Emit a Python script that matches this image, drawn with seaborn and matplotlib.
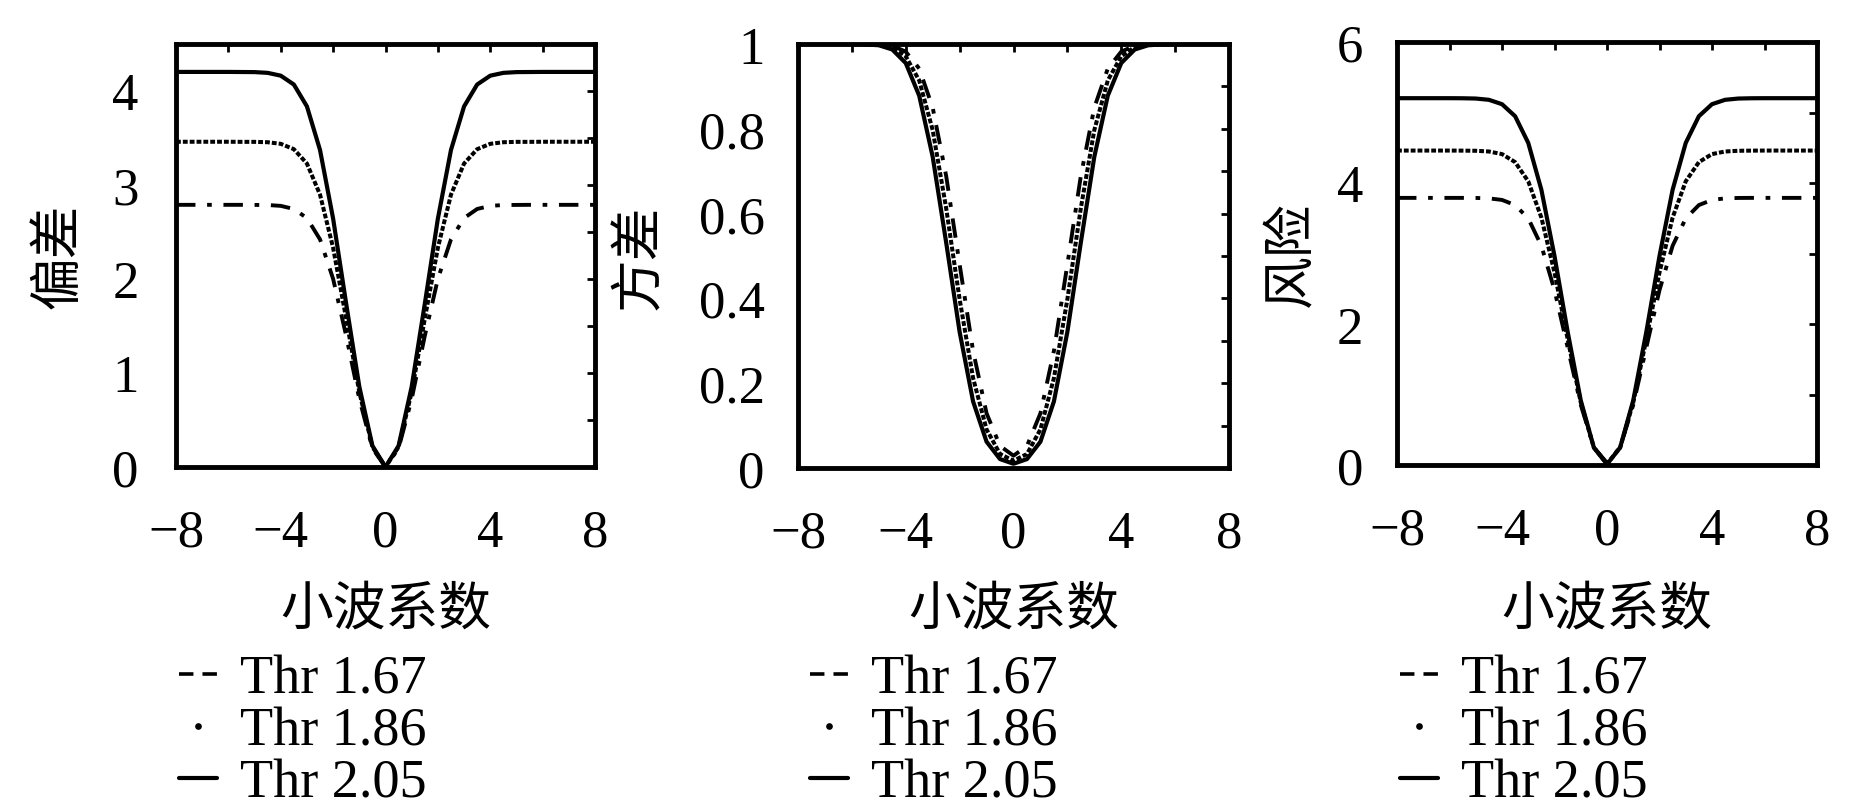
import matplotlib
matplotlib.use("Agg")
import matplotlib.pyplot as plt
from matplotlib.lines import Line2D
import numpy as np
import seaborn as sns

# wavelet coefficient positions
coef = [-8, -7, -6, -5.5, -5, -4.5, -4, -3.5, -3, -2.5, -2, -1.5, -1, -0.5, 0,
        0.5, 1, 1.5, 2, 2.5, 3, 3.5, 4, 4.5, 5, 5.5, 6, 7, 8]

# bias (偏差)
bias_167 = [2.789, 2.789, 2.789, 2.789, 2.788, 2.787, 2.778, 2.745, 2.648, 2.421, 2.001, 1.394, 0.724, 0.199, 0,
            0.199, 0.724, 1.394, 2.001, 2.421, 2.648, 2.745, 2.778, 2.787, 2.788, 2.789, 2.789, 2.789, 2.789]
bias_186 = [3.460, 3.460, 3.460, 3.459, 3.459, 3.455, 3.438, 3.381, 3.228, 2.897, 2.332, 1.576, 0.797, 0.214, 0,
            0.214, 0.797, 1.576, 2.332, 2.897, 3.228, 3.381, 3.438, 3.455, 3.459, 3.459, 3.460, 3.460, 3.460]
bias_205 = [4.203, 4.203, 4.203, 4.202, 4.201, 4.193, 4.163, 4.069, 3.836, 3.372, 2.642, 1.735, 0.855, 0.226, 0,
            0.226, 0.855, 1.735, 2.642, 3.372, 3.836, 4.069, 4.163, 4.193, 4.201, 4.202, 4.203, 4.203, 4.203]

# variance (方差)
var_167 = [1.000, 1.000, 1.000, 1.000, 0.999, 0.996, 0.982, 0.942, 0.850, 0.689, 0.480, 0.276, 0.129, 0.052, 0.029,
           0.052, 0.129, 0.276, 0.480, 0.689, 0.850, 0.942, 0.982, 0.996, 0.999, 1.000, 1.000, 1.000, 1.000]
var_186 = [1.000, 1.000, 1.000, 1.000, 0.998, 0.993, 0.971, 0.914, 0.797, 0.613, 0.398, 0.212, 0.091, 0.033, 0.017,
           0.033, 0.091, 0.212, 0.398, 0.613, 0.797, 0.914, 0.971, 0.993, 0.998, 1.000, 1.000, 1.000, 1.000]
var_205 = [1.000, 1.000, 1.000, 0.999, 0.997, 0.987, 0.955, 0.878, 0.734, 0.532, 0.321, 0.157, 0.062, 0.021, 0.010,
           0.021, 0.062, 0.157, 0.321, 0.532, 0.734, 0.878, 0.955, 0.987, 0.997, 0.999, 1.000, 1.000, 1.000]

# risk (风险)
risk_167 = [3.789, 3.789, 3.789, 3.789, 3.788, 3.782, 3.760, 3.687, 3.498, 3.110, 2.481, 1.670, 0.853, 0.250, 0.029,
            0.250, 0.853, 1.670, 2.481, 3.110, 3.498, 3.687, 3.760, 3.782, 3.788, 3.789, 3.789, 3.789, 3.789]
risk_186 = [4.460, 4.460, 4.460, 4.459, 4.457, 4.447, 4.410, 4.296, 4.024, 3.510, 2.731, 1.788, 0.888, 0.247, 0.017,
            0.247, 0.888, 1.788, 2.731, 3.510, 4.024, 4.296, 4.410, 4.447, 4.457, 4.459, 4.460, 4.460, 4.460]
risk_205 = [5.203, 5.203, 5.203, 5.202, 5.198, 5.180, 5.118, 4.947, 4.569, 3.904, 2.964, 1.892, 0.917, 0.247, 0.010,
            0.247, 0.917, 1.892, 2.964, 3.904, 4.569, 4.947, 5.118, 5.180, 5.198, 5.202, 5.203, 5.203, 5.203]

labels = ["Thr 1.67", "Thr 1.86", "Thr 2.05"]
xlabel = "小波系数"
ylabels = ["偏差", "方差", "风险"]

xticks = [-8, -6, -4, -2, 0, 2, 4, 6, 8]
xticklabels = ["\u22128", "", "\u22124", "", "0", "", "4", "", "8"]
yticks_bias = [0, 0.5, 1, 1.5, 2, 2.5, 3, 3.5, 4, 4.5]
yticklabels_bias = ["0", "", "1", "", "2", "", "3", "", "4", ""]
yticks_var = [0, 0.1, 0.2, 0.3, 0.4, 0.5, 0.6, 0.7, 0.8, 0.9, 1.0]
yticklabels_var = ["0", "", "0.2", "", "0.4", "", "0.6", "", "0.8", "", "1"]
yticks_risk = [0, 1, 2, 3, 4, 5, 6]
yticklabels_risk = ["0", "", "2", "", "4", "", "6"]

sns.set_style("white")
plt.rcParams['font.family'] = ['Liberation Serif', 'Noto Sans CJK SC']
plt.rcParams['axes.unicode_minus'] = True
plt.rcParams['text.color'] = 'black'
plt.rcParams['axes.labelcolor'] = 'black'
plt.rcParams['xtick.color'] = 'black'
plt.rcParams['ytick.color'] = 'black'

W, H = 1869, 812
fig = plt.figure(figsize=(W / 100, H / 100), dpi=100)

panels = [
    dict(box=(176, 45, 595, 468), data=[bias_167, bias_186, bias_205], ylabel=ylabels[0],
         yticks=yticks_bias, yticklabels=yticklabels_bias, ylim=4.5, ypad=27, ylab_x=-0.215, leg_x=179),
    dict(box=(798, 45, 1229, 469), data=[var_167, var_186, var_205], ylabel=ylabels[1],
         yticks=yticks_var, yticklabels=yticklabels_var, ylim=1.0, ypad=24, ylab_x=-0.305, leg_x=810),
    dict(box=(1397, 43, 1817, 466), data=[risk_167, risk_186, risk_205], ylabel=ylabels[2],
         yticks=yticks_risk, yticklabels=yticklabels_risk, ylim=6.0, ypad=24.5, ylab_x=-0.187, leg_x=1400),
]

styles = [dict(linestyle=(0, (5, 3, 1.2, 3)), lw=2.8),
          dict(linestyle=(0, (1.2, 0.5)), lw=2.9),
          dict(linestyle="-", lw=3.0)]

cjk = ['Noto Sans CJK SC']

for p in panels:
    l, t, r, b = p["box"]
    ax = fig.add_axes([l / W, 1 - b / H, (r - l) / W, (b - t) / H])
    for vals, st in zip(p["data"], styles):
        sns.lineplot(x=coef, y=vals, ax=ax, color="black", **st)
    ax.set_xlim(-8, 8)
    ax.set_ylim(0, p["ylim"])
    ax.set_xticks(xticks)
    ax.set_xticklabels(xticklabels)
    ax.set_yticks(p["yticks"])
    ax.set_yticklabels(p["yticklabels"])
    ax.tick_params(direction="in", top=True, right=True, length=6, width=2,
                   labelsize=38, colors="black")
    ax.tick_params(axis="x", pad=30)
    ax.tick_params(axis="y", pad=p["ypad"])
    for s in ax.spines.values():
        s.set_linewidth(3.5)
        s.set_color("black")
    ax.set_xlabel(xlabel, fontsize=38, family=cjk)
    ax.xaxis.set_label_coords(0.5, (b - 582) / (b - t))
    ax.set_ylabel(p["ylabel"], fontsize=38, family=cjk)
    ax.yaxis.set_label_coords(p["ylab_x"], 0.5)

    handles = [Line2D([], [], color="black", lw=2.6, linestyle=(0, (4, 2.5))),
               Line2D([], [], color="black", ls="none", marker="o", markersize=3.8),
               Line2D([], [], color="black", lw=3.0)]
    ax.legend(handles, labels, loc="upper left",
              bbox_to_anchor=(p["leg_x"] / W, 1 - 655 / H), bbox_transform=fig.transFigure,
              frameon=False, prop={"family": "Liberation Serif", "size": 39},
              handlelength=0.7, handletextpad=0.42, labelspacing=0.03,
              borderpad=0, borderaxespad=0)

fig.savefig("out.png", dpi=100, facecolor="white")
